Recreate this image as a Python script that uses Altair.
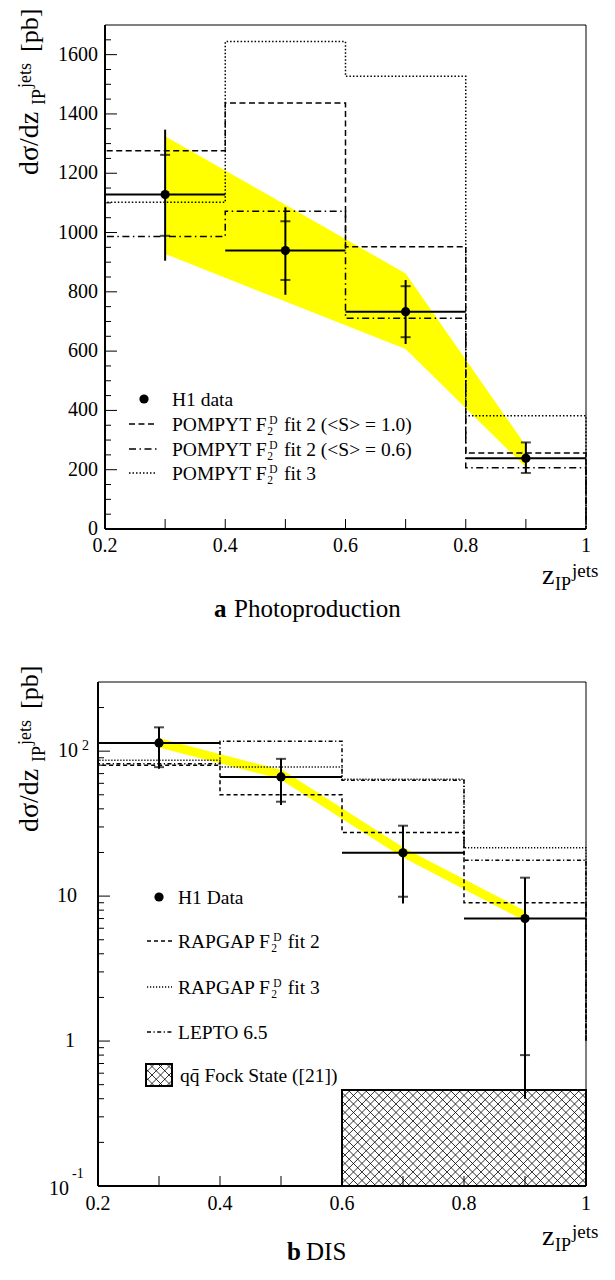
import math
import numpy as np
import pandas as pd
import altair as alt

# ---------------- data ----------------
bin_edges = [0.2, 0.4, 0.6, 0.8, 1.0]
bin_centers = [0.3, 0.5, 0.7, 0.9]

# (a) Photoproduction
a_h1 = [1128, 939, 733, 239]
a_stat_lo = [989, 840, 647, 189]
a_stat_hi = [1262, 1038, 819, 292]
a_tot_lo = [905, 790, 624, 189]
a_tot_hi = [1347, 1085, 840, 292]
a_pompyt_fit2_s10 = [1276, 1437, 952, 256]
a_pompyt_fit2_s06 = [987, 1072, 711, 207]
a_pompyt_fit3 = [1102, 1644, 1527, 382]
a_band_x = [0.3, 0.5, 0.7, 0.9]
a_band_lo = [928, 767, 607, 208]
a_band_hi = [1325, 1094, 862, 281]

# (b) DIS
b_h1 = [114, 66.4, 19.9, 7.0]
b_stat_lo = [77.6, 44.8, 9.9, 0.80]
b_stat_hi = [146, 88.5, 30.6, 13.4]
b_tot_lo = [75.7, 42.5, 8.9, 0.40]
b_tot_hi = [146, 88.5, 30.6, 13.4]
b_rapgap_fit2 = [80, 50, 27.5, 9.0]
b_rapgap_fit3 = [86.4, 77.7, 64, 21.6]
b_lepto = [81.9, 117, 63, 17.7]
b_band_x = [0.3, 0.5, 0.7, 0.9]
b_band_y = [114, 69, 20, 7.3]
b_qq_edges = [0.6, 0.8, 1.0]
b_qq_vals = [0.46, 0.46]

# axis ticks / labels
x_minor_ticks = [0.3, 0.4, 0.5, 0.6, 0.7, 0.8, 0.9]
x_label_vals = [0.2, 0.4, 0.6, 0.8, 1.0]
x_label_text = ["0.2", "0.4", "0.6", "0.8", "1"]
a_y_major = [0, 200, 400, 600, 800, 1000, 1200, 1400, 1600]
a_y_minor = [50, 100, 150, 250, 300, 350, 450, 500, 550, 650, 700, 750, 850, 900, 950,
             1050, 1100, 1150, 1250, 1300, 1350, 1450, 1500, 1550, 1650]
a_y_label_text = ["0", "200", "400", "600", "800", "1000", "1200", "1400", "1600"]
b_y_major = [0.1, 1, 10, 100]
b_y_minor = [0.2, 0.3, 0.4, 0.5, 0.6, 0.7, 0.8, 0.9, 2, 3, 4, 5, 6, 7, 8, 9,
             20, 30, 40, 50, 60, 70, 80, 90, 200]

# ---------------- layout ----------------
FONT = "Liberation Serif"
W, H = 488, 1161
A_L, A_T, A_B = 7, 0, 504          # top panel plot area (px, relative to origin)
B_L, B_T, B_B = 0, 657, 1161       # bottom panel plot area
A_YMAX = 1700
B_YMIN, B_YMAX = 0.1, 300

ax = alt.Scale(domain=[0.2, 1.0], range=[A_L, W], nice=False, zero=False)
ay = alt.Scale(domain=[0, A_YMAX], range=[A_B, A_T], nice=False, zero=False)
bx = alt.Scale(domain=[0.2, 1.0], range=[B_L, W], nice=False, zero=False)
by = alt.Scale(type="log", domain=[B_YMIN, B_YMAX], range=[B_B, B_T], nice=False)

ONE = pd.DataFrame({"k": [0]})


def X(f, s):
    return alt.X(f, type="quantitative", scale=s, axis=None)


def Y(f, s):
    return alt.Y(f, type="quantitative", scale=s, axis=None)


def steps(edges, vals, base):
    xs, ys = [edges[0]], [base]
    for i, v in enumerate(vals):
        xs += [edges[i], edges[i + 1]]
        ys += [v, v]
    xs.append(edges[-1])
    ys.append(base)
    return pd.DataFrame({"x": xs, "y": ys, "o": list(range(len(xs)))})


def hist(edges, vals, base, dash, sx, sy, w=1.5):
    return alt.Chart(steps(edges, vals, base)).mark_line(
        color="black", strokeWidth=w, strokeDash=dash, strokeJoin="miter"
    ).encode(x=X("x", sx), y=Y("y", sy), order="o:Q")


def data_layers(h1, slo, shi, tlo, thi, sx, sy):
    df = pd.DataFrame({"c": bin_centers, "lo": bin_edges[:-1], "hi": bin_edges[1:],
                       "v": h1, "slo": slo, "shi": shi, "tlo": tlo, "thi": thi})
    base = alt.Chart(df)
    return [
        base.mark_rule(color="black", strokeWidth=2).encode(x=X("lo", sx), x2="hi:Q", y=Y("v", sy)),
        base.mark_rule(color="black", strokeWidth=2).encode(x=X("c", sx), y=Y("tlo", sy), y2="thi:Q"),
        base.mark_tick(orient="horizontal", size=10, thickness=2, color="black").encode(x=X("c", sx), y=Y("slo", sy)),
        base.mark_tick(orient="horizontal", size=10, thickness=2, color="black").encode(x=X("c", sx), y=Y("shi", sy)),
        base.mark_point(filled=True, shape="circle", size=85, color="black", opacity=1).encode(x=X("c", sx), y=Y("v", sy)),
    ]


def prule(x1, x2, y1, y2, w=1.0, dash=None):
    kw = dict(color="black", strokeWidth=w)
    if dash:
        kw["strokeDash"] = dash
    return alt.Chart(ONE).mark_rule(**kw).encode(
        x=alt.value(x1), x2=alt.value(x2), y=alt.value(y1), y2=alt.value(y2))


def T(x, y, s, fs=20, align="left", baseline="alphabetic", angle=None, weight=None):
    kw = dict(font=FONT, fontSize=fs, align=align, baseline=baseline, color="black")
    if angle is not None:
        kw["angle"] = angle
    if weight is not None:
        kw["fontWeight"] = weight
    return alt.Chart(ONE).mark_text(**kw).encode(x=alt.value(x), y=alt.value(y), text=alt.value(s))


TNR = {" ": 250, "P": 556, "O": 722, "M": 889, "Y": 722, "T": 611, "F": 556,
       "R": 667, "A": 722, "G": 722}


def tw(s, fs):
    return sum(TNR[c] for c in s) * fs / 1000.0


def f2d_label(x0, r, prefix, rest, fs=19.5):
    b = r + 6.5
    w = tw(prefix, fs)
    xs = x0 + w + 0.5
    return [
        T(x0, b, prefix, fs),
        T(xs, b + 4.5, "2", 11.5),
        T(xs + 2, b - 7, "D", 11.5),
        T(xs + 2 + 0.722 * 11.5 + 1.5 + 0.25 * fs, b, rest, fs),
    ]


def hatch(Wp, Hp, d):
    segs = []
    for c in np.arange(-Hp, Wp, d):
        u1, u2 = max(0.0, c), min(Wp, c + Hp)
        if u2 > u1:
            segs.append((u1, u1 - c, u2, u2 - c))
    for c in np.arange(d, Wp + Hp, d):
        u1, u2 = max(0.0, c - Hp), min(Wp, c)
        if u2 > u1:
            segs.append((u1, c - u1, u2, c - u2))
    return segs


# ---------------- top panel (a) ----------------
A = []
A.append(alt.Chart(pd.DataFrame({"x": a_band_x, "lo": a_band_lo, "hi": a_band_hi}))
         .mark_area(color="#ffff00", opacity=1)
         .encode(x=X("x", ax), y=Y("hi", ay), y2="lo:Q"))
A.append(hist(bin_edges, a_pompyt_fit2_s10, 0, [6, 3.5], ax, ay))
A.append(hist(bin_edges, a_pompyt_fit2_s06, 0, [7, 3.5, 1.5, 3.5], ax, ay))
A.append(hist(bin_edges, a_pompyt_fit3, 0, [1.5, 2], ax, ay))
A += data_layers(a_h1, a_stat_lo, a_stat_hi, a_tot_lo, a_tot_hi, ax, ay)
# ticks (inward)
A.append(alt.Chart(pd.DataFrame({"v": x_minor_ticks})).mark_rule(color="black", strokeWidth=1)
         .encode(x=X("v", ax), y=alt.value(A_B), y2=alt.value(A_B - 10)))
A.append(alt.Chart(pd.DataFrame({"v": a_y_major})).mark_rule(color="black", strokeWidth=1)
         .encode(y=Y("v", ay), x=alt.value(A_L), x2=alt.value(A_L + 12)))
A.append(alt.Chart(pd.DataFrame({"v": a_y_minor})).mark_rule(color="black", strokeWidth=1)
         .encode(y=Y("v", ay), x=alt.value(A_L), x2=alt.value(A_L + 6)))
# tick labels
A.append(alt.Chart(pd.DataFrame({"v": x_label_vals, "t": x_label_text}))
         .mark_text(font=FONT, fontSize=20, align="center", baseline="alphabetic", color="black")
         .encode(x=X("v", ax), y=alt.value(A_B + 23), text="t:N"))
A.append(alt.Chart(pd.DataFrame({"v": a_y_major, "t": a_y_label_text}))
         .mark_text(font=FONT, fontSize=20, align="right", baseline="middle", color="black")
         .encode(y=Y("v", ay), x=alt.value(A_L - 7), text="t:N"))

# ---------------- bottom panel (b) ----------------
B = []
ppd = (B_B - B_T) / math.log10(B_YMAX / B_YMIN)
qq_w = (b_qq_edges[-1] - b_qq_edges[0]) / 0.8 * (W - B_L)
qq_h = math.log10(b_qq_vals[0] / B_YMIN) * ppd
segs = hatch(qq_w, qq_h, 8.5)
hatch_df = pd.DataFrame({
    "x1": [b_qq_edges[0] + s[0] / qq_w * 0.4 for s in segs],
    "y1": [B_YMIN * 10 ** (s[1] / ppd) for s in segs],
    "x2": [b_qq_edges[0] + s[2] / qq_w * 0.4 for s in segs],
    "y2": [B_YMIN * 10 ** (s[3] / ppd) for s in segs],
})
B.append(alt.Chart(hatch_df).mark_rule(color="black", strokeWidth=0.8)
         .encode(x=X("x1", bx), x2="x2:Q", y=Y("y1", by), y2="y2:Q"))
B.append(hist(b_qq_edges, b_qq_vals, B_YMIN, [1, 0], bx, by, w=2))
B.append(alt.Chart(pd.DataFrame({"x": b_band_x, "y": b_band_y}))
         .mark_line(color="#ffff00", strokeWidth=9)
         .encode(x=X("x", bx), y=Y("y", by)))
B.append(hist(bin_edges, b_rapgap_fit2, 1, [4, 3], bx, by))
B.append(hist(bin_edges, b_rapgap_fit3, 1, [1.2, 1.8], bx, by))
B.append(hist(bin_edges, b_lepto, 1, [4, 2.5, 1.2, 2.5], bx, by))
B += data_layers(b_h1, b_stat_lo, b_stat_hi, b_tot_lo, b_tot_hi, bx, by)
B.append(alt.Chart(pd.DataFrame({"v": x_minor_ticks})).mark_rule(color="black", strokeWidth=1)
         .encode(x=X("v", bx), y=alt.value(B_B), y2=alt.value(B_B - 10)))
B.append(alt.Chart(pd.DataFrame({"v": b_y_major})).mark_rule(color="black", strokeWidth=1)
         .encode(y=Y("v", by), x=alt.value(B_L), x2=alt.value(B_L + 12)))
B.append(alt.Chart(pd.DataFrame({"v": b_y_minor})).mark_rule(color="black", strokeWidth=1)
         .encode(y=Y("v", by), x=alt.value(B_L), x2=alt.value(B_L + 6)))
B.append(alt.Chart(pd.DataFrame({"v": x_label_vals, "t": x_label_text}))
         .mark_text(font=FONT, fontSize=20, align="center", baseline="alphabetic", color="black")
         .encode(x=X("v", bx), y=alt.value(B_B + 24), text="t:N"))


def ylab(v, x, s, fs, align, baseline, dy=0):
    return alt.Chart(pd.DataFrame({"v": [v]})).mark_text(
        font=FONT, fontSize=fs, align=align, baseline=baseline, dy=dy, color="black"
    ).encode(y=Y("v", by), x=alt.value(x), text=alt.value(s))


B.append(ylab(100, -20, "10", 20, "right", "middle"))
B.append(ylab(100, -16, "2", 14, "left", "alphabetic", -1))
B.append(ylab(10, -21, "10", 20, "right", "middle"))
B.append(ylab(1, -23, "1", 20, "right", "middle"))
B.append(ylab(0.1, -29, "10", 20, "right", "middle", 3))
B.append(ylab(0.1, -26, "-1", 14, "left", "alphabetic", -8))

# ---------------- frames, titles, legends (pixel layout) ----------------
O = []
# frames
O += [prule(A_L, A_L, A_T, A_B, 2), prule(A_L, W, A_B, A_B, 2),
      prule(A_L, W, A_T, A_T, 1), prule(W, W, A_T, A_B, 1)]
O += [prule(B_L, B_L, B_T, B_B, 2), prule(B_L, W, B_B, B_B, 2),
      prule(B_L, W, B_T, B_T, 1), prule(W, W, B_T, B_B, 1)]

# y titles (rotated)
for s0 in (150, 807):
    O.append(T(-60, s0, "dσ/dz", 28, angle=270))
    O.append(T(-53, s0 - 70, "IP", 18, angle=270))
    O.append(T(-67, s0 - 87, "jets", 18, angle=270))
    O.append(T(-60, s0 - 123, "[pb]", 26, angle=270))

# x titles
for b0 in (559, 1220):
    O.append(T(444, b0, "z", 28))
    O.append(T(457, b0 + 6, "IP", 18))
    O.append(T(474, b0 - 7, "jets", 19))

# captions
O.append(T(116, 592, "a", 25, weight="bold"))
O.append(T(136, 592, "Photoproduction", 25))
O.append(T(189, 1235, "b", 25, weight="bold"))
O.append(T(208, 1235, "DIS", 25))

# legend (a)
ra = [374, 399, 424, 448]
O.append(alt.Chart(ONE).mark_point(filled=True, shape="circle", size=85, color="black", opacity=1)
         .encode(x=alt.value(46), y=alt.value(ra[0])))
O.append(T(74, ra[0] + 6.5, "H1 data", 19.5))
O.append(prule(31, 59, ra[1], ra[1], 1.5, [6, 3.5]))
O.append(prule(31, 59, ra[2], ra[2], 1.5, [7, 3.5, 1.5, 3.5]))
O.append(prule(31, 59, ra[3], ra[3], 1.5, [1.5, 2]))
O += f2d_label(74, ra[1], "POMPYT F", "fit 2 (<S> = 1.0)")
O += f2d_label(74, ra[2], "POMPYT F", "fit 2 (<S> = 0.6)")
O += f2d_label(74, ra[3], "POMPYT F", "fit 3")

# legend (b)
rb = [872, 916, 962, 1007, 1050]
O.append(alt.Chart(ONE).mark_point(filled=True, shape="circle", size=85, color="black", opacity=1)
         .encode(x=alt.value(61), y=alt.value(rb[0])))
O.append(T(80, rb[0] + 6.5, "H1 Data", 19.5))
O.append(prule(49, 74, rb[1], rb[1], 1.5, [4, 3]))
O.append(prule(49, 74, rb[2], rb[2], 1.5, [1.2, 1.8]))
O.append(prule(49, 74, rb[3], rb[3], 1.5, [4, 2.5, 1.2, 2.5]))
O += f2d_label(80, rb[1], "RAPGAP F", "fit 2")
O += f2d_label(80, rb[2], "RAPGAP F", "fit 3")
O.append(T(80, rb[3] + 6.5, "LEPTO 6.5", 19.5))
# hatched legend box
bx0, by0, bw, bh = 48, rb[4] - 11, 26, 22
lsegs = hatch(bw, bh, 8.5)
leg_hatch = pd.DataFrame({
    "x1": [bx0 + s[0] for s in lsegs], "y1": [by0 + bh - s[1] for s in lsegs],
    "x2": [bx0 + s[2] for s in lsegs], "y2": [by0 + bh - s[3] for s in lsegs],
})
O.append(alt.Chart(leg_hatch).mark_rule(color="black", strokeWidth=0.8).encode(
    x=alt.X("x1:Q", scale=None, axis=None), x2="x2:Q",
    y=alt.Y("y1:Q", scale=None, axis=None), y2="y2:Q"))
O.append(alt.Chart(ONE).mark_rect(fillOpacity=0, stroke="black", strokeWidth=2).encode(
    x=alt.value(bx0), x2=alt.value(bx0 + bw), y=alt.value(by0), y2=alt.value(by0 + bh)))
O.append(T(82, rb[4] + 6.5, "qq\u0304 Fock State ([21])", 19.5))

chart = alt.layer(
    alt.layer(*A), alt.layer(*B), alt.layer(*O)
).resolve_scale(
    x="independent", y="independent"
).properties(
    width=W, height=H,
    autosize=alt.AutoSizeParams(type="none"),
    padding={"left": 90, "top": 17, "right": 21, "bottom": 84},
).configure_view(stroke=None)

chart.save("out.html", embed_options={"renderer": "svg", "actions": False})
